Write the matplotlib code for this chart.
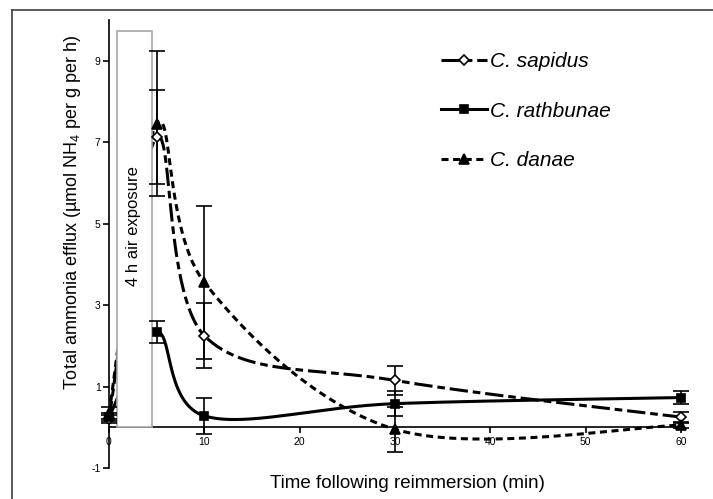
import matplotlib
matplotlib.use('Agg')
import matplotlib.pyplot as plt
import numpy as np
from matplotlib.patches import Rectangle
from matplotlib.lines import Line2D

plt.rcParams['font.family'] = ['Liberation Sans', 'DejaVu Sans']
plt.rcParams['mathtext.fontset'] = 'custom'
plt.rcParams['mathtext.rm'] = 'Liberation Sans'
plt.rcParams['mathtext.it'] = 'Liberation Sans:italic'
plt.rcParams['axes.unicode_minus'] = False

# data
time = [0, 5, 10, 30, 60]
sapidus = [0.2, 7.12, 2.25, 1.15, 0.25]
sapidus_err = [0.1, 1.15, 0.79, 0.35, 0.13]
rathbunae = [0.25, 2.35, 0.28, 0.58, 0.73]
rathbunae_err = [0.1, 0.27, 0.45, 0.3, 0.17]
danae = [0.35, 7.45, 3.56, -0.05, 0.05]
danae_err = [0.15, 1.78, 1.88, 0.55, 0.06]

xticks = [0, 10, 20, 30, 40, 50, 60]
yticks = [-1, 1, 3, 5, 7, 9]


def smooth(x, y, n=60):
    # excel style smoothed line (bezier through the points)
    p = np.column_stack([x, y]).astype(float)
    pts = np.vstack([p[0], p, p[-1]])
    out = []
    for i in range(1, len(pts) - 2):
        p0, p1, p2, p3 = pts[i - 1], pts[i], pts[i + 1], pts[i + 2]
        c1 = p1 + (p2 - p0) / 6
        c2 = p2 - (p3 - p1) / 6
        t = np.linspace(0, 1, n)[:, None]
        b = (1 - t)**3 * p1 + 3 * (1 - t)**2 * t * c1 + 3 * (1 - t) * t**2 * c2 + t**3 * p2
        out.append(b)
    b = np.vstack(out)
    return b[:, 0], b[:, 1]


fig = plt.figure(figsize=(7.13, 4.99), dpi=100)
ax = fig.add_axes([109 / 713, 31 / 499, 572 / 713, 448 / 499])
ax.set_xlim(0, 60)
ax.set_ylim(-1, 10)

lw = 2.2
styles = [
    (sapidus, sapidus_err, (0, (6, 1.6, 2.5, 1.6)), 'D', 'white', 'C. sapidus', 5),
    (rathbunae, rathbunae_err, '-', 's', 'black', 'C. rathbunae', 6),
    (danae, danae_err, (0, (2.3, 1.5)), '^', 'black', 'C. danae', 7),
]
handles = []
for vals, err, ls, mk, fc, name, ms in styles:
    sx, sy = smooth(time, vals)
    ax.plot(sx, sy, color='black', lw=lw, ls=ls, zorder=2, clip_on=False)
    ax.errorbar(time, vals, yerr=err, fmt='none', ecolor='black', elinewidth=1.2,
                capsize=5.5, capthick=1.2, zorder=4, clip_on=False)
    ax.plot(time, vals, ls='none', marker=mk, ms=ms, mfc=fc, mec='black', mew=1.2,
            zorder=5, clip_on=False)
    handles.append(Line2D([], [], color='black', lw=lw, ls=ls, marker=mk, ms=ms,
                          mfc=fc, mec='black', mew=1.2))

# air exposure box
ax.add_patch(Rectangle((0.85, 0), 3.65, 9.73, facecolor='white', edgecolor='#a6a6a6',
                       lw=1.2, zorder=3))
ax.text(2.6, 4.95, '4 h air exposure', rotation=90, ha='center', va='center',
        fontsize=12, zorder=3.5)

for s in ['top', 'right']:
    ax.spines[s].set_visible(False)
ax.spines['bottom'].set_position(('data', 0))
ax.spines['left'].set_linewidth(1.2)
ax.spines['bottom'].set_linewidth(1.2)
ax.set_xticks(xticks)
ax.set_yticks(yticks)
ax.tick_params(axis='both', direction='out', length=4, width=1.2, labelsize=7.5, pad=2)
ax.tick_params(axis='x', pad=3)

leg = fig.legend(handles, ['C. sapidus', 'C. rathbunae', 'C. danae'], loc='upper left',
                 bbox_to_anchor=(431 / 713, 1 - 42 / 499), frameon=False,
                 prop={'style': 'italic', 'size': 15}, handlelength=2.2,
                 handletextpad=0.15, labelspacing=1.45, borderpad=0)

fig.text(73 / 713, 1 - 212 / 499, 'Total ammonia efflux (µmol NH$_4$ per g per h)',
         rotation=90, ha='center', va='center', fontsize=13)
fig.text(407 / 713, 1 - 483 / 499, 'Time following reimmersion (min)', ha='center',
         va='center', fontsize=13.5)

# outer frame
fig.add_artist(Line2D([12 / 713, 12 / 713], [0, 1 - 10 / 499], color='#404040', lw=1.2,
                      transform=fig.transFigure))
fig.add_artist(Line2D([12 / 713, 1], [1 - 10 / 499, 1 - 10 / 499], color='#404040', lw=1.2,
                      transform=fig.transFigure))

fig.savefig('out.png', dpi=100)
